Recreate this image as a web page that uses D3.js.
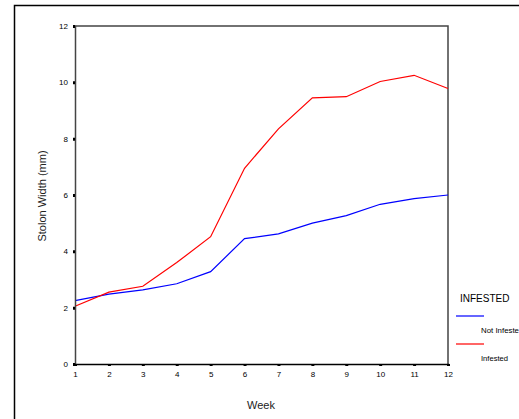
<!DOCTYPE html>
<html>
<head>
<meta charset="utf-8">
<script src="https://cdn.jsdelivr.net/npm/d3@7"></script>
<style>
  html, body { margin: 0; padding: 0; background: #fff; }
  svg { display: block; font-family: "Liberation Sans", Arial, sans-serif; }
</style>
</head>
<body>
<svg id="chart" width="519" height="419"></svg>
<script>
// Mean stolon width per week for each infestation group
const weeks = [1, 2, 3, 4, 5, 6, 7, 8, 9, 10, 11, 12];
const notInfested = [2.25, 2.48, 2.63, 2.85, 3.28, 4.45, 4.62, 5.0, 5.27, 5.67, 5.87, 6.0];
const infested = [2.05, 2.55, 2.76, 3.6, 4.52, 6.95, 8.35, 9.45, 9.49, 10.03, 10.25, 9.78];
const yTicks = [0, 2, 4, 6, 8, 10, 12];
const seriesNames = ["Not Infeste", "Infested"];
const seriesColors = ["#0000ff", "#ff0000"];
const legendTitle = "INFESTED";

const svg = d3.select("#chart");
const margin = { left: 75, top: 26, right: 448, bottom: 364 };

const x = d3.scaleLinear().domain([1, 12]).range([margin.left, margin.right]);
const y = d3.scaleLinear().domain([0, 12]).range([margin.bottom, margin.top]);

// outer frame (left and top edges)
svg.append("path")
  .attr("d", "M14.5,419 V5.5 H519")
  .attr("fill", "none").attr("stroke", "#000").attr("stroke-width", 1.5);

// plot box: top and right edges
svg.append("path")
  .attr("d", `M${margin.left},${margin.top} H${margin.right} V${margin.bottom}`)
  .attr("fill", "none").attr("stroke", "#444").attr("stroke-width", 1.5);

// series lines
const line = d3.line().x((d, i) => x(weeks[i])).y(d => y(d));
[notInfested, infested].forEach((vals, k) => {
  svg.append("path")
    .datum(vals)
    .attr("d", line)
    .attr("fill", "none")
    .attr("stroke", seriesColors[k])
    .attr("stroke-width", 1.2);
});

// y axis
const yAxis = svg.append("g")
  .attr("transform", `translate(${margin.left},0)`)
  .call(d3.axisLeft(y).tickValues(yTicks).tickSize(2).tickPadding(5).tickFormat(d3.format("d")));
yAxis.select(".domain").attr("stroke", "#444").attr("stroke-width", 1.5);
yAxis.selectAll(".tick line").attr("stroke", "#000").attr("stroke-width", 3);
yAxis.selectAll(".tick text").attr("font-size", 8).attr("fill", "#000")
  .attr("font-family", "Liberation Sans, Arial, sans-serif");

// x axis
const xAxis = svg.append("g")
  .attr("transform", `translate(0,${margin.bottom})`)
  .call(d3.axisBottom(x).tickValues(weeks).tickSize(2).tickPadding(5).tickFormat(d3.format("d")));
xAxis.select(".domain").attr("stroke", "#000").attr("stroke-width", 1.5);
xAxis.selectAll(".tick line").attr("stroke", "#000").attr("stroke-width", 3);
xAxis.selectAll(".tick text").attr("font-size", 8).attr("fill", "#000")
  .attr("font-family", "Liberation Sans, Arial, sans-serif");

// axis titles
svg.append("text")
  .attr("x", 261).attr("y", 409)
  .attr("text-anchor", "middle")
  .attr("font-size", 11).attr("fill", "#222")
  .text("Week");

svg.append("text")
  .attr("transform", "translate(46,196) rotate(-90)")
  .attr("text-anchor", "middle")
  .attr("font-size", 11).attr("fill", "#222")
  .text("Stolon Width (mm)");

// legend
svg.append("text")
  .attr("x", 460).attr("y", 302)
  .attr("font-size", 10).attr("fill", "#000")
  .text(legendTitle);

seriesNames.forEach((name, k) => {
  const ly = 316 + k * 28;
  svg.append("line")
    .attr("x1", 456).attr("x2", 484)
    .attr("y1", ly).attr("y2", ly)
    .attr("stroke", seriesColors[k]).attr("stroke-width", 1.2);
  svg.append("text")
    .attr("x", 481).attr("y", ly + 17)
    .attr("font-size", 7.5).attr("fill", "#000")
    .attr("textLength", k === 0 ? 38 : 27)
    .attr("lengthAdjust", "spacingAndGlyphs")
    .text(name);
});
</script>
</body>
</html>
